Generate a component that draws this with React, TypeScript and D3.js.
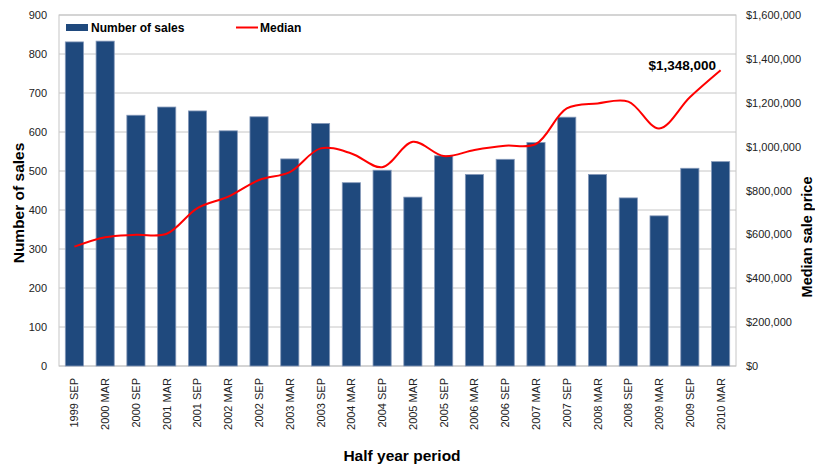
import React from "react";
import * as d3 from "d3";

const categories = [
  "1999 SEP", "2000 MAR", "2000 SEP", "2001 MAR", "2001 SEP", "2002 MAR",
  "2002 SEP", "2003 MAR", "2003 SEP", "2004 MAR", "2004 SEP", "2005 MAR",
  "2005 SEP", "2006 MAR", "2006 SEP", "2007 MAR", "2007 SEP", "2008 MAR",
  "2008 SEP", "2009 MAR", "2009 SEP", "2010 MAR",
];
const salesCounts = [
  831, 833, 643, 664, 654, 603, 639, 531, 622, 470, 502, 433,
  539, 491, 530, 573, 638, 491, 431, 385, 507, 524,
];
const medianPrices = [
  544000, 587000, 598000, 603000, 720000, 772000, 848000, 884000, 992000, 969000, 906000, 1022000,
  957000, 985000, 1004000, 1012000, 1174000, 1197000, 1205000, 1083000, 1225000, 1348000,
];
const leftTicks = [0, 100, 200, 300, 400, 500, 600, 700, 800, 900];
const rightTicks = [0, 200000, 400000, 600000, 800000, 1000000, 1200000, 1400000, 1600000];

const W = 815;
const H = 466;
const M = { left: 59, right: 736, top: 15, bottom: 366 };
const FONT = "Liberation Sans, Arial, sans-serif";

export default function App() {
  const x = d3.scaleBand<string>().domain(categories).range([M.left, M.right]).paddingInner(0.41).paddingOuter(0.205);
  const yL = d3.scaleLinear().domain([0, 900]).range([M.bottom, M.top]);
  const yR = d3.scaleLinear().domain([0, 1600000]).range([M.bottom, M.top]);
  const cx = (c: string) => (x(c) as number) + x.bandwidth() / 2;
  const line = d3
    .line<number>()
    .x((_, i) => cx(categories[i]))
    .y((d) => yR(d))
    .curve(d3.curveCatmullRom.alpha(0.5));
  const fmt = (v: number) => "$" + d3.format(",")(v);
  const last = medianPrices.length - 1;

  return (
    <svg
      width={W}
      height={H}
      style={{ display: "block", position: "fixed", left: 0, top: 0, fontFamily: FONT }}
    >
      <rect width={W} height={H} fill="#fff" />
      {leftTicks.map((t) => (
        <line key={"g" + t} x1={M.left} x2={M.right} y1={yL(t)} y2={yL(t)} stroke="#c6c6c6" strokeWidth={1} />
      ))}
      <rect x={M.left} y={M.top} width={M.right - M.left} height={M.bottom - M.top} fill="none" stroke="#c6c6c6" />
      {categories.map((c, i) => (
        <rect
          key={c}
          x={x(c)}
          y={yL(salesCounts[i])}
          width={x.bandwidth()}
          height={M.bottom - yL(salesCounts[i])}
          fill="#1f497d"
          stroke="#8498b9"
          strokeWidth={0.8}
        />
      ))}
      <path d={line(medianPrices) || ""} fill="none" stroke="#ff0000" strokeWidth={2} />
      <text x={716} y={70} textAnchor="end" fontSize={13.5} fontWeight="bold" fill="#000">
        {fmt(medianPrices[last])}
      </text>
      {leftTicks.map((t) => (
        <text key={"l" + t} x={47} y={yL(t) + 4} textAnchor="end" fontSize={11} fill="#222">
          {t}
        </text>
      ))}
      {rightTicks.map((t) => (
        <text key={"r" + t} x={746} y={yR(t) + 4} textAnchor="start" fontSize={11} fill="#222">
          {fmt(t)}
        </text>
      ))}
      {categories.map((c) => (
        <text
          key={"x" + c}
          transform={`translate(${cx(c) + 4},${378}) rotate(-90)`}
          textAnchor="end"
          fontSize={11}
          fill="#222"
        >
          {c}
        </text>
      ))}
      <text transform="translate(24,203) rotate(-90)" textAnchor="middle" fontSize={15.5} fontWeight="bold" fill="#000">
        Number of sales
      </text>
      <text transform="translate(812,237) rotate(-90)" textAnchor="middle" fontSize={14.5} fontWeight="bold" fill="#000">
        Median sale price
      </text>
      <text x={402} y={461} textAnchor="middle" fontSize={15.5} fontWeight="bold" fill="#000">
        Half year period
      </text>
      <rect x={66} y={24} width={22} height={7} fill="#1f497d" />
      <text x={91} y={32} fontSize={12} fontWeight="bold" fill="#000">
        Number of sales
      </text>
      <line x1={236} x2={258} y1={27.5} y2={27.5} stroke="#ff0000" strokeWidth={2} />
      <text x={260} y={32} fontSize={12} fontWeight="bold" fill="#000">
        Median
      </text>
    </svg>
  );
}
